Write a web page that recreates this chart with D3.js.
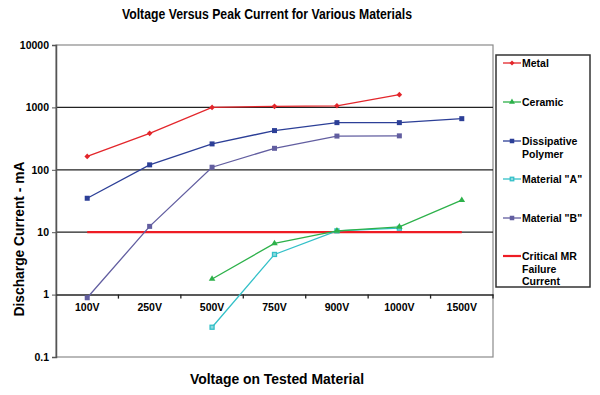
<!DOCTYPE html>
<html>
<head>
<meta charset="utf-8">
<script src="https://cdn.jsdelivr.net/npm/d3@7"></script>
<style>
  body { margin: 0; background: #fff; }
  svg { font-family: "Liberation Sans", Arial, sans-serif; font-weight: bold; }
</style>
</head>
<body>
<svg id="chart" width="600" height="395"></svg>
<script>
// categories and values
const voltages = ["100V", "250V", "500V", "750V", "900V", "1000V", "1500V"];
const yTicks = [0.1, 1, 10, 100, 1000, 10000];

const metal = [164, 384, 1000, 1040, 1060, 1600, null];
const ceramic = [null, null, 1.78, 6.6, 10.5, 12.2, 32.6];
const dissipative = [35, 120, 260, 425, 570, 570, 660];
const materialA = [null, null, 0.3, 4.4, 10.5, 11.6, null];
const materialB = [0.89, 12.4, 110, 221, 347, 350, null];
const critical = [10, 10, 10, 10, 10, 10, 10];

const series = [
  { name: ["Metal"], values: metal, color: "#e3262b", marker: "diamond", width: 1.3 },
  { name: ["Ceramic"], values: ceramic, color: "#2db14a", marker: "triangle", width: 1.3 },
  { name: ["Dissipative", "Polymer"], values: dissipative, color: "#2c3f97", marker: "square", width: 1.3 },
  { name: ["Material \"A\""], values: materialA, color: "#33c0c8", marker: "open", width: 1.3 },
  { name: ["Material \"B\""], values: materialB, color: "#625ea0", marker: "square", width: 1.3 },
  { name: ["Critical MR", "Failure", "Current"], values: critical, color: "#ee1c24", marker: null, width: 2.2 }
];

const svg = d3.select("#chart");
const margin = { left: 56, right: 493, top: 45, bottom: 357 };

const x = d3.scaleBand().domain(voltages).range([margin.left, margin.right]);
const y = d3.scaleLog().domain([0.1, 10000]).range([margin.bottom, margin.top]);

// title
svg.append("text").attr("x", 267).attr("y", 19).attr("text-anchor", "middle")
  .attr("font-size", 14).attr("textLength", 290).attr("lengthAdjust", "spacingAndGlyphs")
  .text("Voltage Versus Peak Current for Various Materials");

// plot frame
svg.append("rect").attr("x", margin.left).attr("y", margin.top)
  .attr("width", margin.right - margin.left).attr("height", margin.bottom - margin.top)
  .attr("fill", "none").attr("stroke", "#8a8a8a").attr("stroke-width", 1.2);

// gridlines
svg.append("g").selectAll("line").data([10, 100, 1000]).join("line")
  .attr("x1", margin.left).attr("x2", margin.right)
  .attr("y1", d => y(d)).attr("y2", d => y(d))
  .attr("stroke", "#222").attr("stroke-width", 1.3);

// y axis
const yAxis = svg.append("g").attr("transform", `translate(${margin.left},0)`)
  .call(d3.axisLeft(y).tickValues(yTicks).tickSize(4).tickPadding(3));
yAxis.attr("font-family", null);
yAxis.select(".domain").attr("stroke", "#555").attr("stroke-width", 1.5);
yAxis.selectAll(".tick line").attr("stroke", "#555");
yAxis.selectAll("text").attr("font-size", 10.5).attr("fill", "#000")
  .text(d => d < 1 ? "0.1" : d3.format("d")(d));

// x axis sits at y = 1
const xAxis = svg.append("g").attr("transform", `translate(0,${y(1)})`)
  .call(d3.axisBottom(x).tickSize(0).tickPadding(9));
xAxis.attr("font-family", null);
xAxis.select(".domain").attr("stroke", "#222").attr("stroke-width", 1.5);
xAxis.selectAll("text").attr("font-size", 10.5).attr("fill", "#000");
svg.append("g").selectAll("line").data(voltages).join("line")
  .attr("x1", d => x(d) + x.bandwidth()).attr("x2", d => x(d) + x.bandwidth())
  .attr("y1", y(1)).attr("y2", y(1) + 4)
  .attr("stroke", "#222").attr("stroke-width", 1.3);

// axis titles
svg.append("text").attr("transform", "translate(24,239) rotate(-90)")
  .attr("text-anchor", "middle").attr("font-size", 14.5)
  .attr("textLength", 155).attr("lengthAdjust", "spacingAndGlyphs")
  .text("Discharge Current - mA");
svg.append("text").attr("x", 277).attr("y", 384).attr("text-anchor", "middle")
  .attr("font-size", 15).attr("textLength", 174).attr("lengthAdjust", "spacingAndGlyphs")
  .text("Voltage on Tested Material");

// lines and markers
const cx = i => x(voltages[i]) + x.bandwidth() / 2;
const line = d3.line().defined(d => d.v != null).x(d => cx(d.i)).y(d => y(d.v));

function drawMarker(g, type, color, px, py, s) {
  if (type === "diamond") {
    g.append("path").attr("d", d3.symbol(d3.symbolDiamond2, s * s * 0.8)())
      .attr("transform", `translate(${px},${py})`).attr("fill", color);
  } else if (type === "triangle") {
    g.append("path").attr("d", d3.symbol(d3.symbolTriangle, s * s * 0.75)())
      .attr("transform", `translate(${px},${py})`).attr("fill", color);
  } else if (type === "square") {
    g.append("rect").attr("x", px - s / 2).attr("y", py - s / 2).attr("width", s).attr("height", s)
      .attr("fill", color);
  } else if (type === "open") {
    g.append("rect").attr("x", px - s / 2 + 0.5).attr("y", py - s / 2 + 0.5).attr("width", s - 1).attr("height", s - 1)
      .attr("fill", "#8fd9de").attr("stroke", color).attr("stroke-width", 1.3);
  }
}

const plot = svg.append("g");
series.slice().reverse().forEach(s => {
  const pts = s.values.map((v, i) => ({ v, i }));
  const g = plot.append("g");
  g.append("path").datum(pts).attr("d", line).attr("fill", "none")
    .attr("stroke", s.color).attr("stroke-width", s.width);
  if (s.marker) {
    pts.filter(d => d.v != null).forEach(d => drawMarker(g, s.marker, s.color, cx(d.i), y(d.v), 5));
  }
});

// legend
const legend = svg.append("g");
legend.append("rect").attr("x", 496).attr("y", 55).attr("width", 94).attr("height", 232)
  .attr("fill", "#fff").attr("stroke", "#333").attr("stroke-width", 1.5);
const legendY = [63, 102, 141, 179, 218, 256];
series.forEach((s, k) => {
  const ly = legendY[k];
  legend.append("line").attr("x1", 503).attr("x2", 521).attr("y1", ly).attr("y2", ly)
    .attr("stroke", s.color).attr("stroke-width", s.width);
  if (s.marker) drawMarker(legend, s.marker, s.color, 512, ly, 4.5);
  s.name.forEach((t, j) => {
    legend.append("text").attr("x", 522).attr("y", ly + 4 + j * 12.5)
      .attr("font-size", 10.5).text(t);
  });
});
</script>
</body>
</html>
